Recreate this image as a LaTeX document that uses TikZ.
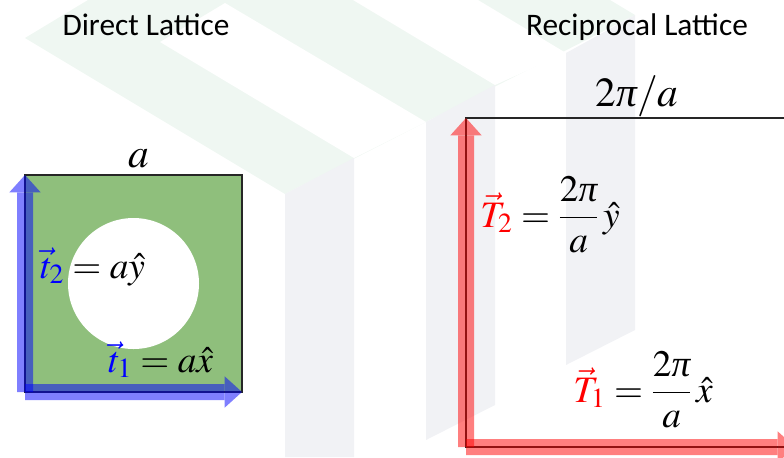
\documentclass[tikz,border=0pt]{standalone}
\usepackage{mathptmx}
\usepackage[no-math]{fontspec}
\newfontfamily\calibri{Carlito}
\newfontfamily\tnr{Liberation Serif}
\newcommand{\ipi}{\mbox{\tnr\itshape π}}
\usepackage{tikz}
\usetikzlibrary{arrows.meta}
\definecolor{cellgreen}{RGB}{143,191,124}
\definecolor{wmgreen}{RGB}{239,247,242}
\definecolor{wmgray}{RGB}{241,242,245}
\tikzset{
  title/.style={font=\calibri\fontsize{23.5}{28}\selectfont, anchor=base, inner sep=0pt},
  eqn/.style={font=\fontsize{28}{34}\selectfont, anchor=base west, inner sep=0pt},
  sizelbl/.style={font=\fontsize{31}{37}\selectfont, anchor=base, inner sep=0pt},
  cellbox/.style={draw=black!85, line width=1.1pt},
  latvec/.style={line width=12pt,
                 -{Triangle[length=13pt, width=23.5pt, line width=0pt]}},
  vecgroup/.style={transparency group, opacity=0.5},
  bluevec/.style={latvec, blue},
  redvec/.style={latvec, red},
}

\begin{document}
\begin{tikzpicture}[x=0.75pt, y=-0.75pt]
  \useasboundingbox (0,0) rectangle (784,457);
  \clip (0,0) rectangle (784,457);

  %% faint watermark behind everything
  \fill[wmgreen] (25,38) -- (285,194) -- (635,15) -- (610,0) -- (88,0) -- cycle;
  \fill[white] (160,42) -- (354,158) -- (426,122) -- (225,3) -- cycle;
  \fill[white] (353,0) -- (495,85) -- (566,53) -- (478,0) -- cycle;
  \fill[wmgray] (285,194) -- (354,158) -- (354,457) -- (285,457) -- cycle;
  \fill[wmgray] (426,122) -- (495,85) -- (495,405) -- (426,440) -- cycle;
  \fill[wmgray] (566,53) -- (635,15) -- (635,330) -- (566,365) -- cycle;

  %% Direct lattice (unit cell with hole)
  \coordinate (do) at (25,392);
  \coordinate (dx) at (242,392);
  \coordinate (dy) at (25,175);
  \coordinate (dtr) at (242,175);
  \coordinate (dc) at (133.5,283.5);
  \fill[cellgreen] (do) rectangle (dtr);
  \fill[white] (dc) circle (65.5);
  \draw[cellbox] (do) rectangle (dtr);
  \begin{scope}[vecgroup] \draw[bluevec] (do) -- (dx); \end{scope}
  \begin{scope}[vecgroup] \draw[bluevec] (do) -- (dy); \end{scope}

  %% Reciprocal lattice (runs off the right edge)
  \coordinate (ro) at (466,447);
  \coordinate (rx) at (795,447);
  \coordinate (ry) at (466,118);
  \coordinate (rtr) at (795,118);
  \draw[cellbox] (ro) rectangle (rtr);
  \begin{scope}[vecgroup] \draw[redvec] (ro) -- (rx); \end{scope}
  \begin{scope}[vecgroup] \draw[redvec] (ro) -- (ry); \end{scope}

  %% titles and labels
  \node[title] (dirtitle) at (146,35) {Direct Lattice};
  \node[title] (rectitle) at (637,35) {Reciprocal Lattice};
  \node[sizelbl] (dsize) at (139,167) {$a$};
  \node[sizelbl] (rsize) at (637,106) {$2\ipi/a$};
  \node[eqn] (t2lbl) at (40,278) {$\textcolor{blue}{\vec{t}_2}=a\hat{y}$};
  \node[eqn] (t1lbl) at (108,372) {$\textcolor{blue}{\vec{t}_1}=a\hat{x}$};
  \node[eqn] (T2lbl) at (480,227)
    {$\textcolor{red}{\vec{T}_2}=\displaystyle\frac{2\ipi}{a}\,\hat{y}$};
  \node[eqn] (T1lbl) at (573,402)
    {$\textcolor{red}{\vec{T}_1}=\displaystyle\frac{2\ipi}{a}\,\hat{x}$};

\end{tikzpicture}
\end{document}
